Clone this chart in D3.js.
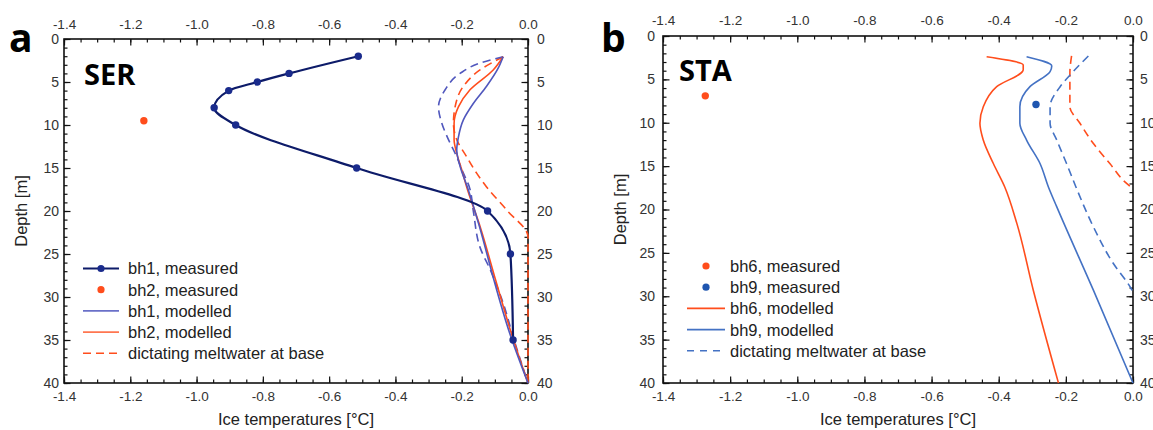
<!DOCTYPE html>
<html>
<head>
<meta charset="utf-8">
<script src="https://cdn.jsdelivr.net/npm/d3@7"></script>
<style>
  body { margin: 0; background: #fff; }
  svg { display: block; }
  .tick text { font-family: "Liberation Sans", Arial, sans-serif; font-size: 13.5px; fill: #333; }
  .yaxis .tick text { font-size: 14px; }
  .axis path, .axis line { stroke: #111; }
</style>
</head>
<body>
<svg id="chart" width="1153" height="430"></svg>
<script>
// shared axes
var tempTicks = [-1.4, -1.2, -1.0, -0.8, -0.6, -0.4, -0.2, 0.0];
var tempTickLabels = ['-1.4', '-1.2', '-1.0', '-0.8', '-0.6', '-0.4', '-0.2', '0.0'];
var depthTicks = [0, 5, 10, 15, 20, 25, 30, 35, 40];

// panel a (SER)
var bh1MeasDepth = [2, 4, 5, 6, 8, 10, 15, 20, 25, 35];
var bh1MeasTemp = [-0.512, -0.721, -0.817, -0.903, -0.947, -0.882, -0.517, -0.122, -0.053, -0.045];
var bh2MeasDepth = [9.5];
var bh2MeasTemp = [-1.159];

var bh1ModDepth = [2.06, 3.4, 5.5, 7.5, 9.4, 11.4, 12.9, 14.8, 17.2, 22, 28, 34, 40];
var bh1ModTemp = [-0.075, -0.09, -0.125, -0.165, -0.195, -0.21, -0.215, -0.205, -0.183, -0.145, -0.103, -0.057, 0];
var bh2ModDepth = [2.06, 3.6, 5.9, 7.9, 9.8, 11.7, 13.3, 15.2, 17.2, 22, 28, 34, 40];
var bh2ModTemp = [-0.075, -0.105, -0.175, -0.21, -0.223, -0.223, -0.215, -0.2, -0.185, -0.143, -0.098, -0.052, 0];
var bh1MeltDepth = [2.06, 2.8, 4.0, 5.9, 7.9, 9.8, 11.7, 13.7, 15.6, 17.2, 20, 24.2, 27, 30.7, 35, 40];
var bh1MeltTemp = [-0.075, -0.145, -0.205, -0.25, -0.27, -0.26, -0.24, -0.215, -0.195, -0.177, -0.165, -0.145, -0.112, -0.075, -0.042, 0];
var bh2MeltDepth = [2.06, 3.6, 5.5, 7.9, 9.8, 11.7, 13.7, 15.6, 17.2, 19.9, 23, 40];
var bh2MeltTemp = [-0.075, -0.145, -0.195, -0.22, -0.225, -0.215, -0.185, -0.155, -0.125, -0.064, 0, 0];

// panel b (STA)
var bh6MeasDepth = [6.9];
var bh6MeasTemp = [-1.274];
var bh9MeasDepth = [7.9];
var bh9MeasTemp = [-0.289];

var bh6ModDepth = [2.39, 3.34, 3.9, 5.84, 8.15, 10.06, 12.0, 14.7, 17.4, 21.6, 29.3, 40];
var bh6ModTemp = [-0.436, -0.327, -0.327, -0.406, -0.446, -0.456, -0.446, -0.416, -0.382, -0.346, -0.297, -0.222];
var bh9ModDepth = [2.39, 3.46, 4.1, 5.84, 8.15, 10.06, 12.0, 14.7, 17.4, 19.7, 29.3, 40];
var bh9ModTemp = [-0.317, -0.242, -0.247, -0.307, -0.337, -0.337, -0.317, -0.277, -0.252, -0.227, -0.118, 0];
var bh9MeltDepth = [2.3, 4.1, 5.84, 8.15, 10.06, 12.0, 14.7, 17.4, 22.0, 26.2, 28.9, 29.5];
var bh9MeltTemp = [-0.133, -0.178, -0.217, -0.247, -0.247, -0.227, -0.198, -0.17, -0.118, -0.059, -0.009, 0];
var bh6MeltDepth = [2.3, 4.3, 8.15, 10.06, 12.4, 14.7, 17.0, 17.6];
var bh6MeltTemp = [-0.183, -0.188, -0.188, -0.158, -0.118, -0.069, -0.019, 0];

var navy = '#0d1b69';
var navyDot = '#1a2b8c';
var red = '#ff4d1c';
var purpleBlue = '#5057bd';
var blueB = '#4472c4';
var blueDot = '#1f56b0';

var svg = d3.select('#chart');

function pairs(depths, temps) {
    return depths.map(function (d, i) { return {depth: d, temp: temps[i]}; });
}

function drawPanel(p) {
    var x = d3.scaleLinear().domain([-1.4, 0]).range([p.left, p.right]);
    var y = d3.scaleLinear().domain([0, 40]).range([p.top, p.bottom]);
    var g = svg.append('g');

    var fmt = function (d) { return tempTickLabels[tempTicks.indexOf(d)]; };

    // minor ticks
    g.append('g').attr('class', 'axis').attr('transform', 'translate(0,' + p.top + ')')
        .call(d3.axisTop(x).ticks(28).tickSize(-3.5).tickSizeOuter(0).tickFormat(''));
    g.append('g').attr('class', 'axis').attr('transform', 'translate(0,' + p.bottom + ')')
        .call(d3.axisBottom(x).ticks(28).tickSize(-3.5).tickSizeOuter(0).tickFormat(''));
    g.append('g').attr('class', 'axis').attr('transform', 'translate(' + p.left + ',0)')
        .call(d3.axisLeft(y).ticks(40).tickSize(-3.5).tickSizeOuter(0).tickFormat(''));
    g.append('g').attr('class', 'axis').attr('transform', 'translate(' + p.right + ',0)')
        .call(d3.axisRight(y).ticks(40).tickSize(-3.5).tickSizeOuter(0).tickFormat(''));

    // major ticks + labels
    g.append('g').attr('class', 'axis').attr('transform', 'translate(0,' + p.top + ')')
        .call(d3.axisTop(x).tickValues(tempTicks).tickSize(-6.5).tickSizeOuter(0).tickPadding(p.topPad).tickFormat(fmt));
    g.append('g').attr('class', 'axis').attr('transform', 'translate(0,' + p.bottom + ')')
        .call(d3.axisBottom(x).tickValues(tempTicks).tickSize(-6.5).tickSizeOuter(0).tickPadding(8).tickFormat(fmt));
    g.append('g').attr('class', 'axis yaxis').attr('transform', 'translate(' + p.left + ',0)')
        .call(d3.axisLeft(y).tickValues(depthTicks).tickSize(-6.5).tickSizeOuter(0).tickPadding(p.leftPad));
    g.append('g').attr('class', 'axis yaxis').attr('transform', 'translate(' + p.right + ',0)')
        .call(d3.axisRight(y).tickValues(depthTicks).tickSize(-6.5).tickSizeOuter(0).tickPadding(p.rightPad));

    g.selectAll('.axis line').attr('stroke-width', 1.2);
    g.selectAll('.axis path.domain').remove();

    g.append('rect')
        .attr('x', p.left).attr('y', p.top)
        .attr('width', p.right - p.left).attr('height', p.bottom - p.top)
        .attr('fill', 'none').attr('stroke', '#111').attr('stroke-width', 1.6);

    var line = d3.line()
        .x(function (d) { return x(d.temp); })
        .y(function (d) { return y(d.depth); })
        .curve(d3.curveMonotoneY);

    p.lines.forEach(function (s) {
        g.append('path')
            .datum(pairs(s.depth, s.temp))
            .attr('d', line)
            .attr('fill', 'none')
            .attr('stroke', s.color)
            .attr('stroke-width', s.width)
            .attr('stroke-dasharray', s.dash || null);
    });

    p.dots.forEach(function (s) {
        g.selectAll(null)
            .data(pairs(s.depth, s.temp))
            .enter().append('circle')
            .attr('cx', function (d) { return x(d.temp); })
            .attr('cy', function (d) { return y(d.depth); })
            .attr('r', s.r)
            .attr('fill', s.color);
    });

    // titles
    g.append('text')
        .attr('x', (p.left + p.right) / 2).attr('y', 425)
        .attr('text-anchor', 'middle')
        .style('font-family', '"Liberation Sans", Arial, sans-serif')
        .style('font-size', '16.5px').style('fill', '#222')
        .text('Ice temperatures [°C]');
    g.append('text')
        .attr('transform', 'translate(' + p.yTitleX + ',' + ((p.top + p.bottom) / 2) + ') rotate(-90)')
        .attr('text-anchor', 'middle')
        .style('font-family', '"Liberation Sans", Arial, sans-serif')
        .style('font-size', '16.5px').style('fill', '#222')
        .text('Depth [m]');

    g.append('text')
        .attr('x', p.letterX).attr('y', 52)
        .style('font-family', '"Open Sans", sans-serif').style('font-weight', 700)
        .style('font-size', '39px').style('fill', '#000')
        .text(p.letter);
    g.append('text')
        .attr('x', p.siteX).attr('y', p.siteY)
        .style('font-family', '"Open Sans", sans-serif').style('font-weight', 700)
        .style('font-size', '29px').style('fill', '#000')
        .text(p.site);

    // legend
    var lg = g.append('g');
    p.legend.forEach(function (item, i) {
        var ly = p.legendY + i * 21.2;
        if (item.line) {
            lg.append('line')
                .attr('x1', p.legendX1).attr('x2', p.legendX2)
                .attr('y1', ly).attr('y2', ly)
                .attr('stroke', item.color).attr('stroke-width', item.width)
                .attr('stroke-dasharray', item.dash || null);
        }
        if (item.dot) {
            lg.append('circle')
                .attr('cx', (p.legendX1 + p.legendX2) / 2).attr('cy', ly)
                .attr('r', 3.6).attr('fill', item.dotColor);
        }
        lg.append('text')
            .attr('x', p.legendTextX).attr('y', ly).attr('dy', '0.36em')
            .style('font-family', '"Liberation Sans", Arial, sans-serif')
            .style('font-size', '16.5px').style('fill', '#222')
            .text(item.label);
    });
}

drawPanel({
    left: 64, right: 528, top: 39, bottom: 383,
    topPad: 10, leftPad: 5, rightPad: 9,
    yTitleX: 27, letter: 'a', letterX: 9, site: 'SER', siteX: 84, siteY: 85,
    lines: [
        {depth: bh2MeltDepth, temp: bh2MeltTemp, color: red, width: 1.6, dash: '8,5'},
        {depth: bh1MeltDepth, temp: bh1MeltTemp, color: purpleBlue, width: 1.6, dash: '8,5'},
        {depth: bh2ModDepth, temp: bh2ModTemp, color: red, width: 1.6},
        {depth: bh1ModDepth, temp: bh1ModTemp, color: purpleBlue, width: 1.6},
        {depth: bh1MeasDepth, temp: bh1MeasTemp, color: navy, width: 2.2}
    ],
    dots: [
        {depth: bh1MeasDepth, temp: bh1MeasTemp, color: navyDot, r: 3.7},
        {depth: bh2MeasDepth, temp: bh2MeasTemp, color: red, r: 3.7}
    ],
    legendX1: 83, legendX2: 119, legendTextX: 128, legendY: 268.5,
    legend: [
        {label: 'bh1, measured', line: true, color: navy, width: 2.2, dot: true, dotColor: navyDot},
        {label: 'bh2, measured', line: false, dot: true, dotColor: red},
        {label: 'bh1, modelled', line: true, color: '#6a70c8', width: 1.8},
        {label: 'bh2, modelled', line: true, color: '#ff7650', width: 1.8},
        {label: 'dictating meltwater at base', line: true, color: red, width: 1.6, dash: '8,5'}
    ]
});

drawPanel({
    left: 663, right: 1133, top: 36, bottom: 383,
    topPad: 11, leftPad: 8, rightPad: 7,
    yTitleX: 626, letter: 'b', letterX: 601, site: 'STA', siteX: 679, siteY: 81,
    lines: [
        {depth: bh6MeltDepth, temp: bh6MeltTemp, color: red, width: 1.6, dash: '8,5'},
        {depth: bh9MeltDepth, temp: bh9MeltTemp, color: blueB, width: 1.6, dash: '8,5'},
        {depth: bh6ModDepth, temp: bh6ModTemp, color: red, width: 1.6},
        {depth: bh9ModDepth, temp: bh9ModTemp, color: blueB, width: 1.6}
    ],
    dots: [
        {depth: bh6MeasDepth, temp: bh6MeasTemp, color: red, r: 3.7},
        {depth: bh9MeasDepth, temp: bh9MeasTemp, color: blueDot, r: 3.7}
    ],
    legendX1: 687, legendX2: 725, legendTextX: 730, legendY: 266,
    legend: [
        {label: 'bh6, measured', line: false, dot: true, dotColor: red},
        {label: 'bh9, measured', line: false, dot: true, dotColor: blueDot},
        {label: 'bh6, modelled', line: true, color: red, width: 1.6},
        {label: 'bh9, modelled', line: true, color: blueB, width: 1.6},
        {label: 'dictating meltwater at base', line: true, color: blueB, width: 1.6, dash: '7,6'}
    ]
});
</script>
</body>
</html>
